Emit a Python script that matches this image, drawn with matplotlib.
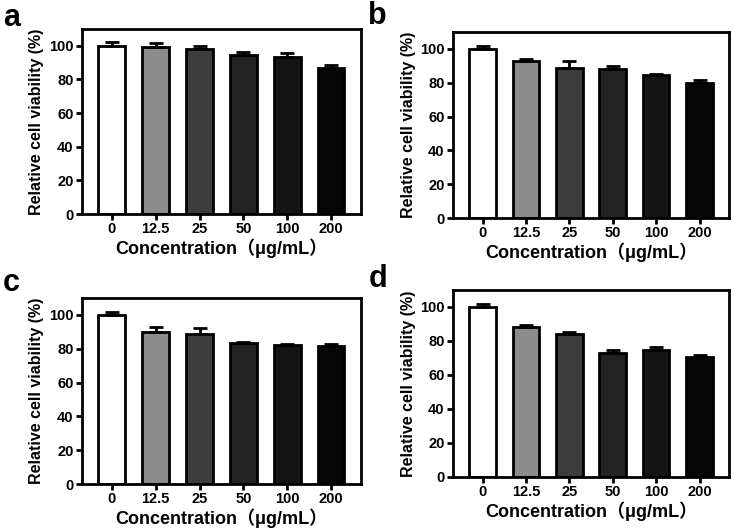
import matplotlib
matplotlib.use("Agg")
import matplotlib.pyplot as plt
import numpy as np

plt.rcParams['font.family'] = ['Liberation Sans', 'Noto Sans CJK SC', 'DejaVu Sans']
plt.rcParams['font.weight'] = 'bold'

categories = ["0", "12.5", "25", "50", "100", "200"]
vals_a = [100.0, 99.2, 98.0, 94.8, 93.6, 86.9]
err_a = [2.0, 2.4, 1.6, 1.6, 2.4, 1.8]
vals_b = [100.0, 92.6, 89.0, 88.0, 84.3, 79.7]
err_b = [1.6, 1.6, 4.0, 1.8, 0.8, 1.8]
vals_c = [100.0, 90.1, 88.9, 83.3, 82.3, 81.7]
err_c = [1.8, 2.6, 3.2, 0.6, 0.6, 1.2]
vals_d = [100.0, 88.1, 84.1, 73.0, 74.6, 70.4]
err_d = [1.8, 1.4, 1.2, 1.6, 2.0, 1.2]
panel_letters = ["a", "b", "c", "d"]

bar_colors = ["#ffffff", "#8c8c8c", "#3c3c3c", "#232323", "#141414", "#050505"]

fig = plt.figure(figsize=(7.34, 5.32), dpi=100)
rects = [
    [0.1117, 0.5977, 0.380, 0.3478],
    [0.6172, 0.5902, 0.376, 0.3496],
    [0.1117, 0.0902, 0.380, 0.3496],
    [0.6172, 0.1034, 0.376, 0.3515],
]
letter_pos = [(0.004, 0.995), (0.502, 0.998), (0.004, 0.497), (0.502, 0.503)]
data = [(vals_a, err_a), (vals_b, err_b), (vals_c, err_c), (vals_d, err_d)]

for i, (rect, (vals, errs)) in enumerate(zip(rects, data)):
    ax = fig.add_axes(rect)
    x = np.arange(len(categories))
    ax.bar(x, vals, width=0.61, color=bar_colors, edgecolor="black", linewidth=2.0, zorder=2)
    ax.errorbar(x, vals, yerr=[np.zeros(len(errs)), errs], fmt="none", ecolor="black",
                elinewidth=2.0, capsize=5, capthick=2.0, zorder=3)
    ax.set_xlim(-0.68, 5.68)
    ax.set_ylim(0, 110)
    ax.set_yticks([0, 20, 40, 60, 80, 100])
    ax.set_xticks(x)
    ax.set_xticklabels(categories)
    for s in ax.spines.values():
        s.set_linewidth(2.0)
    ax.tick_params(axis="both", direction="out", width=2.0, length=4, labelsize=10.5, pad=2)
    for lab in ax.get_xticklabels() + ax.get_yticklabels():
        lab.set_fontweight("bold")
    ax.set_ylabel("Relative cell viability (%)", fontsize=11.5, fontweight="bold")
    ax.yaxis.set_label_coords(-0.135, 0.5)
    ax.set_xlabel("Concentration（μg/mL）", fontsize=13, fontweight="bold")
    ax.xaxis.set_label_coords(0.5, -0.13)
    fig.text(letter_pos[i][0], letter_pos[i][1], panel_letters[i], fontsize=22,
             fontweight="bold", ha="left", va="top")

fig.savefig("out.png", dpi=100)
